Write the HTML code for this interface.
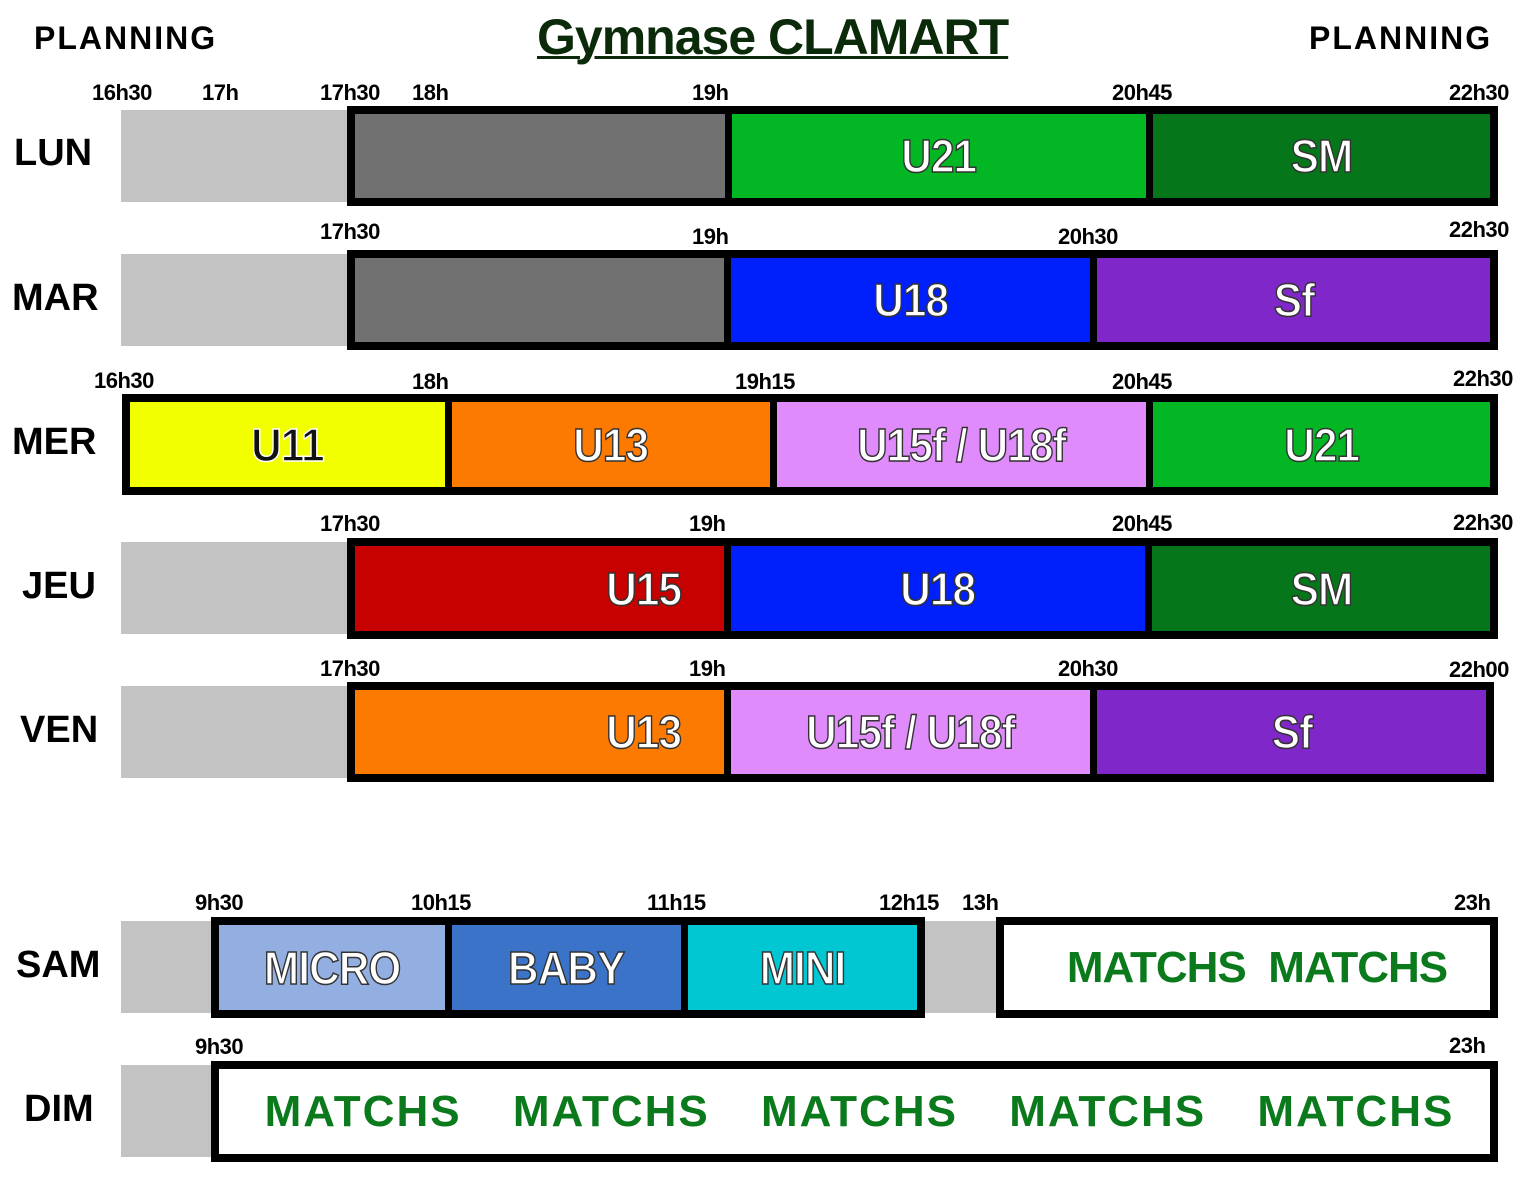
<!DOCTYPE html>
<html><head><meta charset="utf-8"><style>
body{margin:0;width:1536px;height:1203px;background:#fff;position:relative;overflow:hidden;font-family:"Liberation Sans",sans-serif;font-weight:bold}
div{position:absolute;box-sizing:border-box}
.g{background:#c3c3c3}
.box{border:8px solid #000;display:flex}
.box .seg,.box .sep{position:relative;flex:none}
.seg{height:100%;display:flex;align-items:center;justify-content:center;color:#fff;font-size:46px;-webkit-text-stroke:1.5px #333;letter-spacing:-1px}
.seg span{display:inline-block;transform:scaleX(0.92)}
.sep{width:7px;height:100%;background:#000}
.d{font-size:38px;left:14px;width:90px}
.t{font-size:22px;letter-spacing:-0.5px}
.m{color:#0b7a1c;-webkit-text-stroke:0;font-size:44px;letter-spacing:0}
</style></head><body>
<div style="left:34px;top:20px;font-size:32px;letter-spacing:2px">PLANNING</div>
<div style="left:1309px;top:20px;font-size:32px;letter-spacing:2px">PLANNING</div>
<div style="left:537px;top:8px;font-size:50px;color:#0a2a0a;text-decoration:underline;text-decoration-thickness:3px;letter-spacing:-1px">Gymnase CLAMART</div>

<!-- LUN -->
<div class="t" style="left:92px;top:80px">16h30</div><div class="t" style="left:202px;top:80px">17h</div><div class="t" style="left:320px;top:80px">17h30</div><div class="t" style="left:412px;top:80px">18h</div><div class="t" style="left:692px;top:80px">19h</div><div class="t" style="left:1112px;top:80px">20h45</div><div class="t" style="left:1449px;top:80px">22h30</div>
<div class="d" style="top:132px">LUN</div>
<div class="g" style="left:121px;top:110px;width:230px;height:92px"></div>
<div class="box" style="left:347px;top:106px;width:1151px;height:100px"><div class="seg" style="width:370px;background:#717171"></div><div class="sep"></div><div class="seg" style="width:414px;background:#03b623"><span>U21</span></div><div class="sep"></div><div class="seg" style="flex:1 1 auto;background:#05771a"><span>SM</span></div></div>

<!-- MAR -->
<div class="t" style="left:320px;top:219px">17h30</div><div class="t" style="left:692px;top:224px">19h</div><div class="t" style="left:1058px;top:224px">20h30</div><div class="t" style="left:1449px;top:217px">22h30</div>
<div class="d" style="top:277px;left:12px">MAR</div>
<div class="g" style="left:121px;top:254px;width:230px;height:92px"></div>
<div class="box" style="left:347px;top:250px;width:1151px;height:100px"><div class="seg" style="width:369px;background:#717171"></div><div class="sep"></div><div class="seg" style="width:359px;background:#0020fb"><span>U18</span></div><div class="sep"></div><div class="seg" style="flex:1 1 auto;background:#7f27c9"><span>Sf</span></div></div>

<!-- MER -->
<div class="t" style="left:94px;top:368px">16h30</div><div class="t" style="left:412px;top:369px">18h</div><div class="t" style="left:735px;top:369px">19h15</div><div class="t" style="left:1112px;top:369px">20h45</div><div class="t" style="left:1453px;top:366px">22h30</div>
<div class="d" style="top:421px;left:12px">MER</div>
<div class="box" style="left:122px;top:394px;width:1376px;height:101px"><div class="seg" style="width:315px;background:#f2ff00;color:#111;-webkit-text-stroke:1.5px #fff"><span>U11</span></div><div class="sep"></div><div class="seg" style="width:318px;background:#fd7a00"><span>U13</span></div><div class="sep"></div><div class="seg" style="width:369px;background:#df8bfb"><span>U15f / U18f</span></div><div class="sep"></div><div class="seg" style="flex:1 1 auto;background:#03b623"><span>U21</span></div></div>

<!-- JEU -->
<div class="t" style="left:320px;top:511px">17h30</div><div class="t" style="left:689px;top:511px">19h</div><div class="t" style="left:1112px;top:511px">20h45</div><div class="t" style="left:1453px;top:510px">22h30</div>
<div class="d" style="top:565px;left:22px">JEU</div>
<div class="g" style="left:121px;top:542px;width:230px;height:92px"></div>
<div class="box" style="left:347px;top:538px;width:1151px;height:101px"><div class="seg" style="width:369px;background:#c70000;justify-content:flex-end;padding-right:40px"><span>U15</span></div><div class="sep"></div><div class="seg" style="width:414px;background:#0020fb"><span>U18</span></div><div class="sep"></div><div class="seg" style="flex:1 1 auto;background:#05771a"><span>SM</span></div></div>

<!-- VEN -->
<div class="t" style="left:320px;top:656px">17h30</div><div class="t" style="left:689px;top:656px">19h</div><div class="t" style="left:1058px;top:656px">20h30</div><div class="t" style="left:1449px;top:657px">22h00</div>
<div class="d" style="top:709px;left:20px">VEN</div>
<div class="g" style="left:121px;top:686px;width:230px;height:92px"></div>
<div class="box" style="left:347px;top:682px;width:1147px;height:100px"><div class="seg" style="width:369px;background:#fd7a00;justify-content:flex-end;padding-right:40px"><span>U13</span></div><div class="sep"></div><div class="seg" style="width:359px;background:#df8bfb"><span>U15f / U18f</span></div><div class="sep"></div><div class="seg" style="flex:1 1 auto;background:#7f27c9"><span>Sf</span></div></div>

<!-- SAM -->
<div class="t" style="left:195px;top:890px">9h30</div><div class="t" style="left:411px;top:890px">10h15</div><div class="t" style="left:647px;top:890px">11h15</div><div class="t" style="left:879px;top:890px">12h15</div><div class="t" style="left:962px;top:890px">13h</div><div class="t" style="left:1454px;top:890px">23h</div>
<div class="d" style="top:944px;left:16px">SAM</div>
<div class="g" style="left:121px;top:921px;width:880px;height:92px"></div>
<div class="box" style="left:211px;top:917px;width:714px;height:101px"><div class="seg" style="width:226px;background:#93aee0"><span>MICRO</span></div><div class="sep"></div><div class="seg" style="width:229px;background:#3b73c8"><span>BABY</span></div><div class="sep"></div><div class="seg" style="flex:1 1 auto;background:#00c7d2"><span>MINI</span></div></div>
<div class="box" style="left:996px;top:917px;width:502px;height:101px;background:#fff;align-items:center;justify-content:center;padding-left:20px"><span class="m" style="letter-spacing:-1px">MATCHS&nbsp; MATCHS</span></div>

<!-- DIM -->
<div class="t" style="left:195px;top:1034px">9h30</div><div class="t" style="left:1449px;top:1033px">23h</div>
<div class="d" style="top:1088px;left:24px">DIM</div>
<div class="g" style="left:121px;top:1065px;width:95px;height:92px"></div>
<div class="box" style="left:211px;top:1061px;width:1287px;height:101px;background:#fff;align-items:center;justify-content:space-around;padding:0 10px 0 20px"><span class="m" style="letter-spacing:2px">MATCHS</span><span class="m" style="letter-spacing:2px">MATCHS</span><span class="m" style="letter-spacing:2px">MATCHS</span><span class="m" style="letter-spacing:2px">MATCHS</span><span class="m" style="letter-spacing:2px">MATCHS</span></div>
</body></html>
